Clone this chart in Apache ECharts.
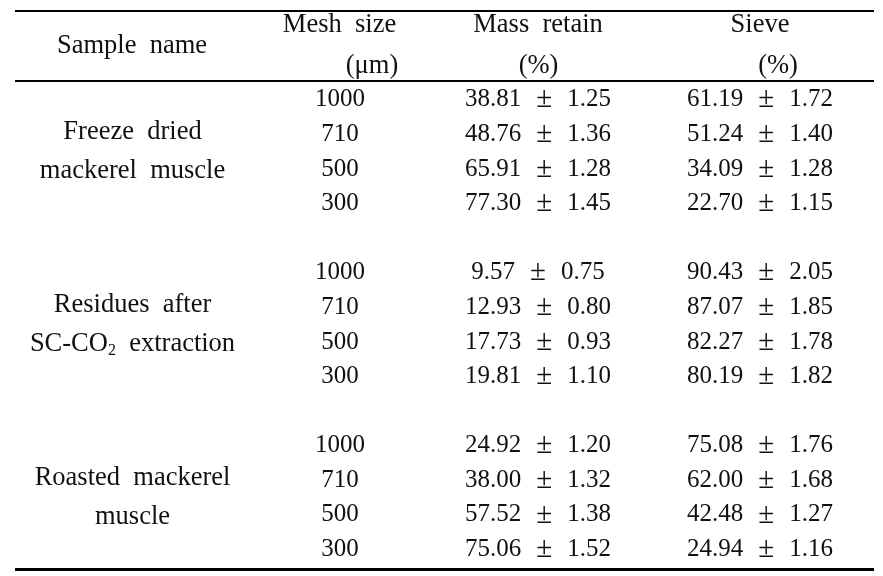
<!DOCTYPE html>
<html>
<head>
<meta charset="utf-8">
<script src="https://cdn.jsdelivr.net/npm/echarts@6/dist/echarts.min.js"></script>
<style>html,body{margin:0;padding:0;background:#fff}#c{width:883px;height:576px}</style>
</head>
<body>
<div id="c"></div>
<script>
// ---- data ----
var sampleNames = [
  ['Freeze\u2002dried', 'mackerel\u2002muscle'],
  ['Residues\u2002after', 'SC-CO|2|\u2002extraction'],
  ['Roasted\u2002mackerel', 'muscle']
];
var meshSizes = [1000, 710, 500, 300];
var massMean = [[38.81, 48.76, 65.91, 77.30], [9.57, 12.93, 17.73, 19.81], [24.92, 38.00, 57.52, 75.06]];
var massSd   = [[1.25, 1.36, 1.28, 1.45], [0.75, 0.80, 0.93, 1.10], [1.20, 1.32, 1.38, 1.52]];
var sieveMean = [[61.19, 51.24, 34.09, 22.70], [90.43, 87.07, 82.27, 80.19], [75.08, 62.00, 42.48, 24.94]];
var sieveSd   = [[1.72, 1.40, 1.28, 1.15], [2.05, 1.85, 1.78, 1.82], [1.76, 1.68, 1.27, 1.16]];
var headers = {name: 'Sample\u2002name', mesh: ['Mesh\u2002size', '(\u03bcm)'], mass: ['Mass\u2002retain', '(%)'], sieve: ['Sieve', '(%)']};

// ---- layout ----
var FONT = "'Liberation Serif', 'DejaVu Serif', serif";
var FS = 25;      // numbers
var FT = 26.5;    // words
var COLOR = '#111';
var colX = {name: 132.5, mesh: 340, mass: 538, sieve: 760};
var rowsPerGroup = 5; // 4 rows + blank

var meshData = [], massData = [], sieveData = [], nameData = [];
for (var g = 0; g < sampleNames.length; g++) {
  for (var r = 0; r < meshSizes.length; r++) {
    var y = g * rowsPerGroup + r;
    meshData.push([colX.mesh, y, meshSizes[r]]);
    massData.push([colX.mass, y, massMean[g][r], massSd[g][r]]);
    sieveData.push([colX.sieve, y, sieveMean[g][r], sieveSd[g][r]]);
  }
  nameData.push([colX.name, g * rowsPerGroup + 1.5, g]);
}

function nameFmt(p) {
  var lines = sampleNames[p.value[2]];
  return lines.map(function (l) {
    var parts = l.split('|');
    if (parts.length === 1) return '{t|' + l + '}';
    return '{t|' + parts[0] + '}{sub|' + parts[1] + '}{t|' + parts[2] + '}';
  }).join('\n');
}
function pmFmt(p) {
  return '{v|' + p.value[2].toFixed(2) + '}{pm|\u00b1}{v|' + p.value[3].toFixed(2) + '}';
}
var baseText = {fontFamily: FONT, fontSize: FS, color: COLOR};
var pmRich = {
  v: baseText,
  pm: {fontFamily: FONT, fontSize: FS + 4, color: COLOR, padding: [0, 15, 0, 15]}
};

function textSeries(data, fmt, rich, extra) {
  var lbl = Object.assign({show: true, position: 'inside', formatter: fmt, fontFamily: FONT, fontSize: FS, color: COLOR, opacity: 1, rich: rich || {}}, extra || {});
  return {type: 'scatter', data: data, symbolSize: 1, itemStyle: {color: 'rgba(0,0,0,0)', opacity: 1}, label: lbl, silent: true, animation: false, labelLayout: {hideOverlap: false}};
}

var chart = echarts.init(document.getElementById('c'), null, {renderer: 'canvas'});
function hText(text, x, y) {
  return {type: 'text', x: x, y: y, style: {text: text, font: FT + 'px ' + FONT, fill: COLOR, align: 'center', verticalAlign: 'middle'}, silent: true};
}
function rule(y, w) {
  return {type: 'line', shape: {x1: 15, y1: y, x2: 874, y2: y}, style: {stroke: '#000', lineWidth: w}, silent: true};
}
chart.setOption({
  backgroundColor: '#fff',
  animation: false,
  grid: {left: 0, right: 0, top: 82.5, bottom: 9.2, containLabel: false},
  xAxis: {type: 'value', min: 0, max: 883, show: false},
  yAxis: {type: 'value', min: -0.5, max: 13.5, inverse: true, show: false},
  series: [
    textSeries(meshData, function (p) { return String(p.value[2]); }),
    textSeries(massData, pmFmt, pmRich),
    textSeries(sieveData, pmFmt, pmRich),
    textSeries(nameData, nameFmt, {
      t: {fontFamily: FONT, fontSize: FT, color: COLOR, lineHeight: 39},
      sub: {fontFamily: FONT, fontSize: 16, color: COLOR, lineHeight: 39, padding: [14, 0, 0, 0]}
    }, {lineHeight: 39})
  ],
  graphic: [
    rule(11, 2), rule(81, 2), rule(569.5, 3),
    hText(headers.name, 132, 46),
    hText(headers.mesh[0], 339.5, 25.5), hText(headers.mesh[1], 372, 66),
    hText(headers.mass[0], 538, 25.5), hText(headers.mass[1], 538.5, 66),
    hText(headers.sieve[0], 760, 25.5), hText(headers.sieve[1], 778, 66)
  ]
});
</script>
</body>
</html>
